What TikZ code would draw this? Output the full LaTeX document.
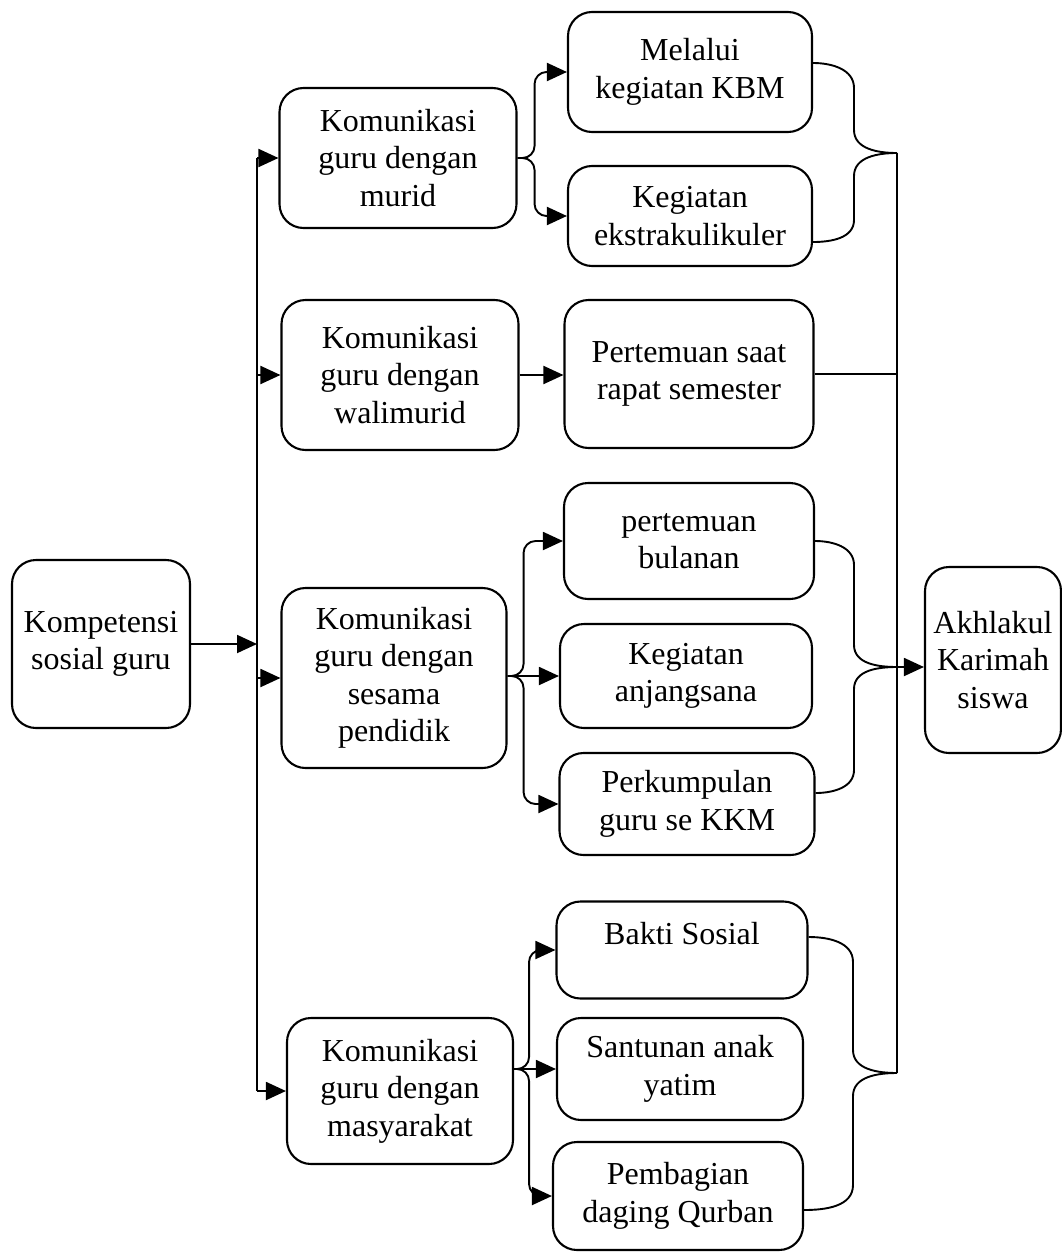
\documentclass[tikz,border=0pt]{standalone}
\usepackage{fontspec}
\setmainfont{Liberation Serif}
\usetikzlibrary{arrows.meta}

\begin{document}
\begin{tikzpicture}[x=1pt, y=-1pt, line width=1.9pt,
    box/.style={draw, line width=2.1pt, rounded corners=24pt, align=center,
      inner sep=0pt, font=\fontsize{32}{37.5}\selectfont},
    arr/.style={-{Triangle[length=20pt,width=18pt]}}]
  \useasboundingbox (0,0) rectangle (1062,1255);
  % left column
  \node[box, minimum width=178pt, minimum height=168pt] (komp) at (101,644) {Kompetensi\\sosial guru};
  \node[box, minimum width=237pt, minimum height=140pt] (murid) at (398,158) {Komunikasi\\guru dengan\\murid};
  \node[box, minimum width=237pt, minimum height=150pt] (wali) at (400,375) {Komunikasi\\guru dengan\\walimurid};
  \node[box, minimum width=225pt, minimum height=180pt] (sesama) at (394,678) {Komunikasi\\guru dengan\\sesama\\pendidik};
  \node[box, minimum width=226pt, minimum height=146pt] (masy) at (400,1091) {Komunikasi\\guru dengan\\masyarakat};
  % activities
  \node[box, minimum width=244pt, minimum height=120pt] (melalui) at (690,72) {Melalui\\kegiatan KBM};
  \node[box, minimum width=244pt, minimum height=100pt] (ekstra) at (690,216) {Kegiatan\\ekstrakulikuler};
  \node[box, minimum width=249pt, minimum height=148pt] (rapat) at (689,374) {Pertemuan saat\\rapat semester};
  \node[box, minimum width=250pt, minimum height=116pt] (bulanan) at (689,541) {pertemuan\\bulanan};
  \node[box, minimum width=252pt, minimum height=104pt] (anjang) at (686,676) {Kegiatan\\anjangsana};
  \node[box, minimum width=255pt, minimum height=102pt] (kkm) at (687,804) {Perkumpulan\\guru se KKM};
  \node[box, minimum width=251pt, minimum height=97pt, text depth=33pt] (bakti) at (682,950) {Bakti Sosial};
  \node[box, minimum width=246pt, minimum height=102pt] (yatim) at (680,1069) {Santunan anak\\yatim};
  \node[box, minimum width=250pt, minimum height=108pt] (qurban) at (678,1196) {Pembagian\\daging Qurban};
  \node[box, minimum width=136pt, minimum height=186pt] (akhlak) at (993,660) {Akhlakul\\Karimah\\siswa};

  % left trunk
  \coordinate (trunk) at (257,0);
  \draw[arr] (komp.east) -- (komp.east -| trunk);
  \draw (trunk |- murid.west) -- (trunk |- masy.west);
  \foreach \n in {murid, wali, sesama, masy}
    \draw[arr] (trunk |- \n.west) -- (\n.west);

  % fan-outs
  \foreach \t in {melalui, ekstra}
    \draw[arr, rounded corners=12pt] (murid.east) -- ++(17,0) |- (\t.west);
  \draw[arr] (wali.east) -- (wali.east -| rapat.west);
  \foreach \t in {bulanan, kkm}
    \draw[arr, rounded corners=12pt] (sesama.east |- anjang.west) -- ++(16,0) |- (\t.west);
  \draw[arr] (sesama.east |- anjang.west) -- (anjang.west);
  \foreach \t in {bakti, qurban}
    \draw[arr, rounded corners=12pt] (masy.east |- yatim.west) -- ++(15,0) |- (\t.west);
  \draw[arr] (masy.east |- yatim.west) -- (yatim.west);

  % right braces and trunk
  \coordinate (tipA) at (897,153);
  \coordinate (tipB) at (897,667);
  \coordinate (tipC) at (897,1073);
  \draw ([yshift=9pt]melalui.east) to[out=0,in=90] (854,88) -- (854,130)
    to[out=-90,in=180] (tipA) to[out=180,in=90] (854,176) -- (854,220)
    to[out=-90,in=0] ([yshift=-26pt]ekstra.east);
  \draw (bulanan.east) to[out=0,in=90] (854,565) -- (854,645)
    to[out=-90,in=180] (tipB) to[out=180,in=90] (854,689) -- (854,770)
    to[out=-90,in=0] ([yshift=11pt]kkm.east);
  \draw ([yshift=13pt]bakti.east) to[out=0,in=90] (853,962) -- (853,1050)
    to[out=-90,in=180] (tipC) to[out=180,in=90] (853,1096) -- (853,1185)
    to[out=-90,in=0] ([yshift=-14pt]qurban.east);
  \draw (tipA) -- (tipC);
  \draw (rapat.east) -- (rapat.east -| tipA);
  \draw[arr] (tipB) -- (tipB -| akhlak.west);
\end{tikzpicture}
\end{document}
